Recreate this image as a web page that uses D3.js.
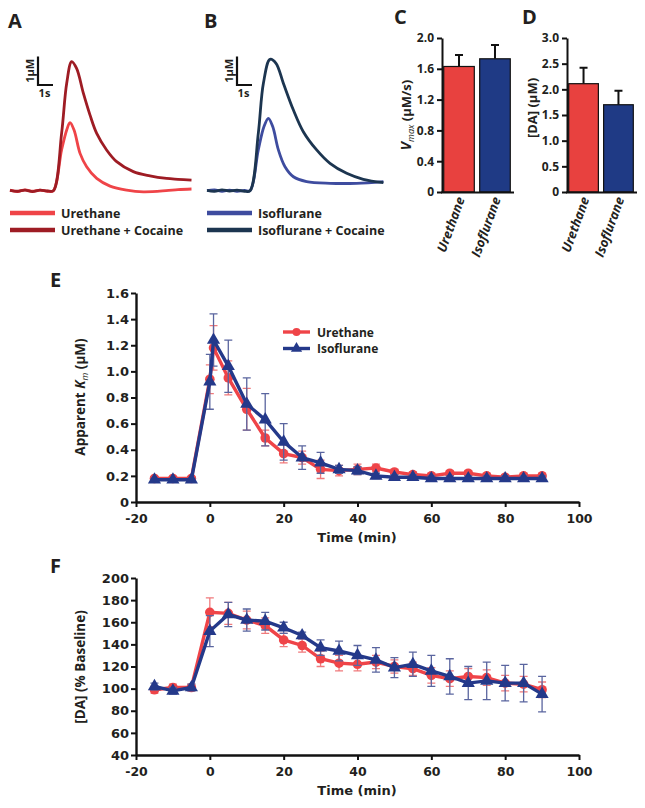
<!DOCTYPE html>
<html><head><meta charset="utf-8">
<script src="https://cdn.jsdelivr.net/npm/d3@7"></script>
<style>
body{margin:0;background:#fff;}
svg{font-family:"Open Sans",sans-serif;font-weight:700;}
</style></head>
<body><svg id="c" width="645" height="808"></svg>
<script>
// ---------- DATA ----------
// Panel A traces (time s, DA µM)
const traceA_ure_t = [0,0.5,1.0,1.5,2.0,2.5,2.89,3.44,3.78,4.0,4.27,4.67,5.11,5.78,6.67,7.78,8.89,10.4,11.2,12.1];
const traceA_ure_v = [0.02,-0.03,0.03,-0.02,0.02,-0.02,0,1.43,2.13,2.39,2.13,1.31,0.84,0.43,0.16,0.02,-0.04,0,0.04,0.06];
const traceA_coc_t = [0,0.5,1,1.5,2,2.5,2.89,3.44,3.78,4.11,4.44,4.89,5.33,5.78,6.44,7.11,8.22,9.33,10.44,11.2,12.1];
const traceA_coc_v = [0.01,-0.02,0.02,-0.03,0.02,-0.01,0,2.01,3.77,4.53,4.29,3.42,2.66,2.01,1.43,1.02,0.67,0.52,0.43,0.40,0.37];
// Panel B traces
const traceB_iso_t = [0,0.5,1,1.5,2,2.5,2.87,3.42,3.8,4.09,4.38,4.76,5.2,5.76,6.64,8.2,9.98,11.76];
const traceB_iso_v = [0.0,0.03,-0.02,0.02,-0.02,0.01,0,1.43,2.25,2.54,2.25,1.43,0.84,0.49,0.32,0.26,0.26,0.32];
const traceB_coc_t = [0,0.5,1,1.5,2,2.5,2.87,3.42,3.76,4.2,4.6,5.09,5.76,6.42,7.31,8.2,9.31,10.42,11.76];
const traceB_coc_v = [0.01,-0.02,0.03,-0.01,0.02,-0.02,0,2.01,3.77,4.61,4.47,3.77,2.83,2.07,1.43,0.96,0.61,0.40,0.28];
const legendA = ["Urethane","Urethane + Cocaine"];
const legendB = ["Isoflurane","Isoflurane + Cocaine"];

// Panels C, D
const groups = ["Urethane","Isoflurane"];
const vmax = [1.63,1.73];
const vmaxErr = [0.15,0.18];
const daConc = [2.11,1.70];
const daConcErr = [0.31,0.27];
const ticksC = [0,0.4,0.8,1.2,1.6,2.0];
const ticksD = [0,0.5,1.0,1.5,2.0,2.5,3.0];

// Panels E, F
const times = [-15,-10,-5,0,1,5,10,15,20,25,30,35,40,45,50,55,60,65,70,75,80,85,90];
const kmUre = [0.18,0.18,0.18,0.94,1.18,0.95,0.71,0.49,0.37,0.34,0.25,0.24,0.25,0.26,0.23,0.21,0.20,0.22,0.22,0.20,0.19,0.20,0.20];
const kmUreErr = [0.01,0.01,0.01,0.11,0.17,0.13,0.16,0.06,0.07,0.05,0.07,0.04,0.04,0.03,0.02,0.02,0.02,0.02,0.02,0.02,0.02,0.02,0.02];
const kmIso = [0.17,0.17,0.17,0.92,1.24,1.04,0.75,0.63,0.46,0.34,0.30,0.25,0.24,0.20,0.19,0.19,0.18,0.18,0.18,0.18,0.18,0.18,0.18];
const kmIsoErr = [0.01,0.01,0.01,0.21,0.20,0.20,0.20,0.20,0.14,0.09,0.08,0.03,0.03,0.02,0.02,0.02,0.02,0.02,0.02,0.02,0.02,0.02,0.02];
const timesF = [-15,-10,-5,0,5,10,15,20,25,30,35,40,45,50,55,60,65,70,75,80,85,90];
const daUre = [99,101,101,169,168,162,157,144,139,127,123,122,124,120,118,112,109,111,110,105,104,99];
const daUreErr = [3,3,3,13,10,8,7,6,6,7,7,6,6,6,6,7,7,7,7,7,7,7];
const daIso = [102,98,101,152,167,162,161,155,148,137,134,130,126,119,122,116,111,105,107,105,105,95];
const daIsoErr = [3,3,3,14,11,10,8,5,3,7,9,9,11,9,11,14,16,15,17,16,17,16];
const ticksE = [0,0.2,0.4,0.6,0.8,1.0,1.2,1.4,1.6];
const ticksF = [40,60,80,100,120,140,160,180,200];
const ticksX = [-20,0,20,40,60,80,100];
const legendE = ["Urethane","Isoflurane"];

// ---------- STYLE ----------
const RED="#ef4448", BLUE="#24398a", DRED="#9e1c24", LBLUE="#3e4c9f", DTEAL="#1c3550";
const TXT="#231f20", OS="'Open Sans',sans-serif", DV="'DejaVu Sans',sans-serif";
const svg = d3.select("#c");
const numFmt = d=>d===0?"0":d3.format(".1f")(d);
const intFmt = d=>String(d);

function panelLabel(t,x,y){svg.append("text").attr("x",x).attr("y",y).attr("font-size",20).attr("fill",TXT).text(t);}
panelLabel("A",8,28);panelLabel("B",204,28);panelLabel("C",394,24);panelLabel("D",522,24);
panelLabel("E",50,287);panelLabel("F",50,573);

// ---------- Panels A, B ----------
function tracePanel(x0, series, colors, labels, bar){
  const xs = d3.scaleLinear().domain([0,1]).range([x0, x0+15]);
  const ys = d3.scaleLinear().domain([0,1]).range([190.7, 162.2]);
  const line = d3.line().x(d=>xs(d[0])).y(d=>ys(d[1])).curve(d3.curveCatmullRom);
  series.forEach((s,i)=>{
    svg.append("path").datum(d3.zip(s[0],s[1])).attr("d",line)
      .attr("fill","none").attr("stroke",colors[i]).attr("stroke-width",2.8).attr("stroke-linejoin","round");
  });
  const bx = bar[0], by = bar[1];
  svg.append("path").attr("d",`M${bx},${by-(ys(0)-ys(1))}V${by}H${bx+(xs(1)-xs(0))}`)
    .attr("fill","none").attr("stroke","#111").attr("stroke-width",2.2);
  svg.append("text").attr("transform",`translate(${bx-4},${by-(ys(0)-ys(1))/2}) rotate(-90)`)
    .attr("text-anchor","middle").attr("font-size",11).attr("fill",TXT).text("1μM");
  svg.append("text").attr("x",bx+(xs(1)-xs(0))/2-1).attr("y",by+12).attr("text-anchor","middle").attr("font-size",11).attr("fill",TXT).text("1s");
  labels.forEach((l,i)=>{
    const ly = 213 + i*17;
    svg.append("line").attr("x1",x0).attr("x2",x0+45).attr("y1",ly).attr("y2",ly).attr("stroke",colors[i]).attr("stroke-width",4.5);
    svg.append("text").attr("x",x0+51).attr("y",ly+5).attr("font-size",12.5).attr("fill",TXT).text(l);
  });
}
tracePanel(10,[[traceA_ure_t,traceA_ure_v],[traceA_coc_t,traceA_coc_v]],[RED,DRED],legendA,[38,85]);
tracePanel(207,[[traceB_iso_t,traceB_iso_v],[traceB_coc_t,traceB_coc_v]],[LBLUE,DTEAL],legendB,[237,85]);

// ---------- Panels C, D ----------
function barPanel(xr, ymax, ticks, vals, errs){
  const x = d3.scaleBand().domain(groups).range(xr).paddingInner(0.15).paddingOuter(0.02);
  const y = d3.scaleLinear().domain([0,ymax]).range([192,38]);
  const g = svg.append("g");
  groups.forEach((gname,i)=>{
    const cx = x(gname)+x.bandwidth()/2;
    g.append("path").attr("d",`M${cx},${y(vals[i])}V${y(vals[i]+errs[i])}M${cx-4},${y(vals[i]+errs[i])}H${cx+4}`)
      .attr("stroke","#111").attr("stroke-width",2).attr("fill","none");
    g.append("rect").attr("x",x(gname)).attr("width",x.bandwidth()).attr("y",y(vals[i])).attr("height",y(0)-y(vals[i]))
      .attr("fill",i===0?"#e8413f":"#1f3a85").attr("stroke","#111").attr("stroke-width",1.2);
    g.append("text").attr("transform",`translate(${cx+6},199) rotate(-70)`)
      .attr("text-anchor","end").attr("font-size",13).attr("font-style","italic").attr("fill",TXT).text(gname);
  });
  const ya = g.append("g").attr("transform",`translate(${xr[0]-1},0)`)
    .call(d3.axisLeft(y).tickValues(ticks).tickFormat(numFmt).tickSize(5).tickSizeOuter(0));
  ya.select(".domain").attr("stroke-width",2).attr("stroke","#111");
  ya.selectAll(".tick line").attr("stroke-width",2).attr("stroke","#111");
  ya.selectAll("text").attr("font-size",12).attr("font-family",OS).attr("font-weight",700).attr("fill",TXT);
  g.append("line").attr("x1",xr[0]-2).attr("x2",xr[1]+3).attr("y1",192.5).attr("y2",192.5).attr("stroke","#111").attr("stroke-width",2);
  return g;
}
const gC = barPanel([443,511],2,ticksC,vmax,vmaxErr);
const tC = gC.append("text").attr("transform","translate(411,115) rotate(-90)").attr("text-anchor","middle").attr("font-size",13).attr("fill",TXT);
tC.append("tspan").attr("font-style","italic").attr("font-size",14).text("V");
tC.append("tspan").attr("font-style","italic").attr("font-size",9).attr("dy",3).attr("font-weight",400).text("max");
tC.append("tspan").attr("dy",-3).text("  (μM/s)");
const gD = barPanel([568,634],3,ticksD,daConc,daConcErr);
gD.append("text").attr("transform","translate(537,108) rotate(-90)").attr("text-anchor","middle").attr("font-size",13).attr("fill",TXT).text("[DA] (μM)");

// ---------- Panels E, F ----------
function timePanel(yDomain, yRange, ticks, fmt, series, titleFn){
  const x = d3.scaleLinear().domain([-20,100]).range([136,579]);
  const y = d3.scaleLinear().domain(yDomain).range(yRange);
  const g = svg.append("g");
  const xa = g.append("g").attr("transform",`translate(0,${yRange[0]})`)
    .call(d3.axisBottom(x).tickValues(ticksX).tickFormat(intFmt).tickSize(5).tickSizeOuter(0));
  const ya = g.append("g").attr("transform",`translate(${x(-20)},0)`)
    .call(d3.axisLeft(y).tickValues(ticks).tickFormat(fmt).tickSize(5).tickSizeOuter(0));
  [xa,ya].forEach(a=>{
    a.select(".domain").attr("stroke-width",2.4).attr("stroke","#111");
    a.selectAll(".tick line").attr("stroke-width",2).attr("stroke","#111");
    a.selectAll("text").attr("font-family",DV).attr("font-weight",700).attr("fill",TXT);
  });
  xa.selectAll("text").attr("font-size",12.5).attr("y",21).attr("dy",0);
  ya.selectAll("text").attr("font-size",13).attr("x",-7);
  g.append("text").attr("x",357).attr("y",yRange[0]+40).attr("text-anchor","middle").attr("font-family",DV).attr("font-size",13).attr("fill",TXT).text("Time (min)");
  const line = d3.line().x(d=>x(d[0])).y(d=>y(d[1]));
  series.forEach(s=>{
    const pts = d3.zip(s.t,s.v,s.e);
    pts.forEach(p=>{
      const cx=x(p[0]);
      g.append("path").attr("d",`M${cx},${y(p[1]-p[2])}V${y(p[1]+p[2])}M${cx-4},${y(p[1]+p[2])}H${cx+4}M${cx-4},${y(p[1]-p[2])}H${cx+4}`)
        .attr("stroke",s.ec).attr("stroke-width",1.3).attr("fill","none");
    });
    g.append("path").datum(pts).attr("d",line).attr("fill","none").attr("stroke",s.c).attr("stroke-width",3.4);
    pts.forEach(p=>{
      if(s.m==="circle") g.append("circle").attr("cx",x(p[0])).attr("cy",y(p[1])).attr("r",4.8).attr("fill",s.c);
      else g.append("path").attr("transform",`translate(${x(p[0])},${y(p[1])})`).attr("d",d3.symbol(d3.symbolTriangle,75)()).attr("fill",s.c);
    });
  });
  titleFn(g);
  return g;
}
const gE = timePanel([0,1.6],[502,293],ticksE,numFmt,[
  {t:times,v:kmUre,e:kmUreErr,c:RED,ec:"#f07a7c",m:"circle"},
  {t:times,v:kmIso,e:kmIsoErr,c:BLUE,ec:"#5a659f",m:"tri"}],
  g=>{
    const t=g.append("text").attr("transform","translate(85,397) rotate(-90)").attr("text-anchor","middle").attr("font-size",13.5).attr("fill",TXT);
    t.append("tspan").text("Apparent ");
    t.append("tspan").attr("font-style","italic").text("K");
    t.append("tspan").attr("font-style","italic").attr("font-size",9).attr("dy",3).attr("font-weight",400).text("m");
    t.append("tspan").attr("dy",-3).text(" (μM)");
  });
legendE.forEach((l,i)=>{
  const ly=332+i*16.5, c=i===0?RED:BLUE;
  gE.append("line").attr("x1",283).attr("x2",310).attr("y1",ly).attr("y2",ly).attr("stroke",c).attr("stroke-width",3.4);
  if(i===0) gE.append("circle").attr("cx",296.5).attr("cy",ly).attr("r",4).attr("fill",c);
  else gE.append("path").attr("transform",`translate(296.5,${ly})`).attr("d",d3.symbol(d3.symbolTriangle,55)()).attr("fill",c);
  gE.append("text").attr("x",317).attr("y",ly+4.5).attr("font-size",12).attr("fill",TXT).text(l);
});
timePanel([40,200],[755,578],ticksF,intFmt,[
  {t:timesF,v:daUre,e:daUreErr,c:RED,ec:"#f07a7c",m:"circle"},
  {t:timesF,v:daIso,e:daIsoErr,c:BLUE,ec:"#5a659f",m:"tri"}],
  g=>{
    g.append("text").attr("transform","translate(85,667) rotate(-90)").attr("text-anchor","middle").attr("font-size",13.5).attr("fill",TXT).text("[DA] (% Baseline)");
  });
</script></body></html>
